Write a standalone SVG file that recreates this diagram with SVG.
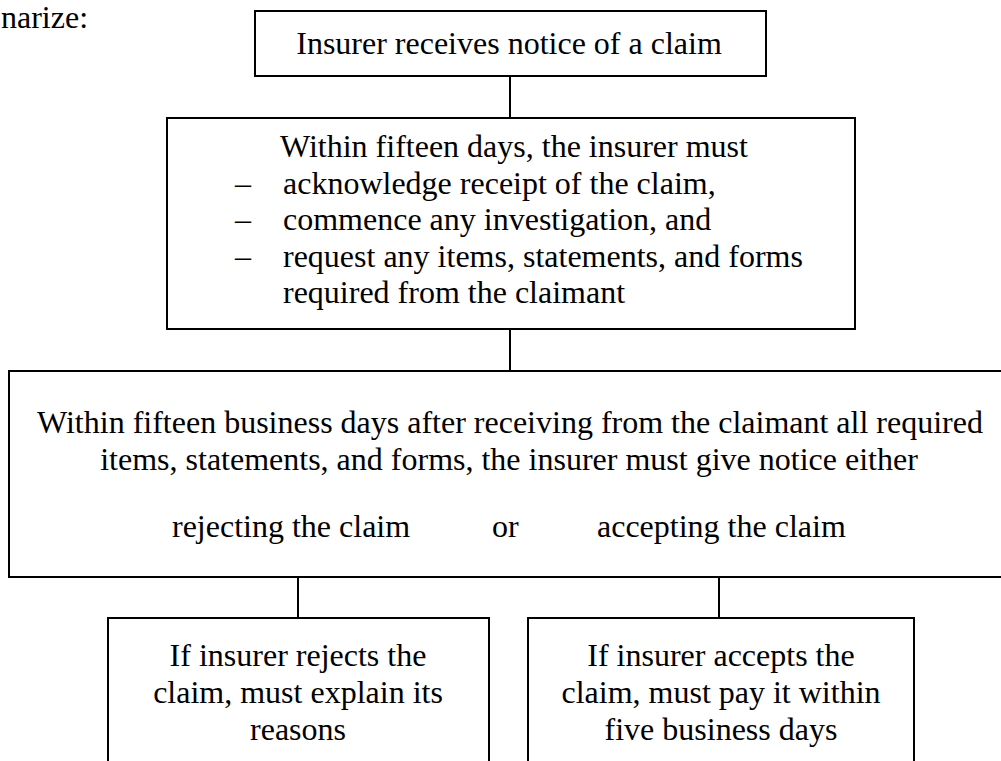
<svg xmlns="http://www.w3.org/2000/svg" width="1001" height="761" viewBox="0 0 1001 761">
<style>
.box{fill:#fff;stroke:#000;stroke-width:2}
.con{stroke:#000;stroke-width:2;fill:none}
text{font-family:"Liberation Serif","Times New Roman",serif;font-size:32px;fill:#000}
.c{text-anchor:middle}
</style>
<rect width="1001" height="761" fill="#fff"/>
<text x="1" y="28">narize:</text>
<g id="connectors">
<line class="con" x1="510" y1="76" x2="510" y2="118"/>
<line class="con" x1="510" y1="329" x2="510" y2="371"/>
<line class="con" x1="298" y1="577" x2="298" y2="618"/>
<line class="con" x1="719" y1="577" x2="719" y2="618"/>
</g>
<g id="n1">
<rect class="box" x="255" y="11" width="511" height="65"/>
<text class="c" x="509" y="54">Insurer receives notice of a claim</text>
</g>
<g id="n2">
<rect class="box" x="167" y="118" width="688" height="211"/>
<text x="280" y="157">Within fifteen days, the insurer must</text>
<text x="235" y="193.5">–</text>
<text x="283" y="193.5">acknowledge receipt of the claim,</text>
<text x="235" y="230">–</text>
<text x="283" y="230">commence any investigation, and</text>
<text x="235" y="266.5">–</text>
<text x="283" y="266.5">request any items, statements, and forms</text>
<text x="283" y="303">required from the claimant</text>
</g>
<g id="n3">
<rect class="box" x="9" y="371" width="1010" height="206"/>
<text class="c" x="510" y="433">Within fifteen business days after receiving from the claimant all required</text>
<text class="c" x="509" y="470">items, statements, and forms, the insurer must give notice either</text>
<text x="172" y="537">rejecting the claim</text>
<text x="492" y="537">or</text>
<text x="597" y="537">accepting the claim</text>
</g>
<g id="n4">
<rect class="box" x="108" y="618" width="381" height="200"/>
<text class="c" x="298" y="666">If insurer rejects the</text>
<text class="c" x="298" y="703">claim, must explain its</text>
<text class="c" x="298" y="740">reasons</text>
</g>
<g id="n5">
<rect class="box" x="528" y="618" width="386" height="200"/>
<text class="c" x="721" y="666">If insurer accepts the</text>
<text class="c" x="721" y="703">claim, must pay it within</text>
<text class="c" x="721" y="740">five business days</text>
</g>
</svg>
